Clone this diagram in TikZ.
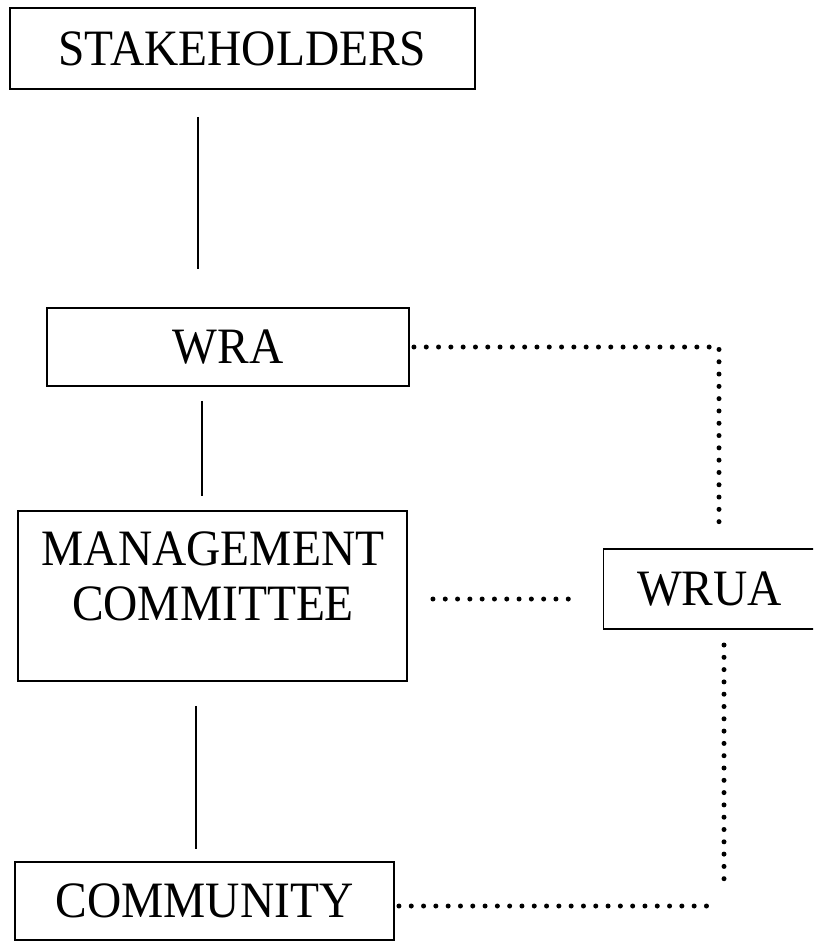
\documentclass[tikz,border=0pt]{standalone}
\usepackage{fontspec}
\setmainfont[FakeStretch=0.93]{Liberation Serif}
\begin{document}
\begin{tikzpicture}[x=1pt,y=-1pt,
  boxfont/.style={font=\fontsize{51}{55}\selectfont},
  box/.style={draw, line width=1.9pt, rectangle, inner sep=0pt, boxfont},
  solidline/.style={line width=1.6pt},
  dotline/.style={line width=5pt, line cap=round, dash pattern=on 0pt off 12.3pt}]
\useasboundingbox (0,0) rectangle (813,941);
\clip (0,0) rectangle (813,941);
\node[box, minimum width=465pt, minimum height=81pt] (stake) at (242.5,48.5) {STAKEHOLDERS};
\node[box, minimum width=362pt, minimum height=78pt] (wra) at (228,347) {WRA};
\node[box, minimum width=389pt, minimum height=170pt] (mc) at (212.5,596) {};
\node[boxfont, inner sep=0pt, anchor=base, align=center] (mctext) at (213,620) {MANAGEMENT\\COMMITTEE};
\node[box, minimum width=212pt, minimum height=80pt] (wrua) at (709.5,589) {WRUA};
\node[box, minimum width=379pt, minimum height=78pt] (comm) at (204.5,901) {COMMUNITY};
\coordinate (xa) at (198,0);
\coordinate (xb) at (202,0);
\coordinate (xc) at (196,0);
\coordinate (ya) at (0,347);
\coordinate (topend) at (719,522);
\coordinate (mcdots) at (0,599);
\coordinate (lowstart) at (724,645);
\coordinate (lowend) at (724,882);
\coordinate (commdots) at (0,906);
\coordinate (commend) at (707,906);
\draw[solidline, shorten <=27pt, shorten >=38pt] (stake.south -| xa) -- (wra.north -| xa);
\draw[solidline, shorten <=14pt, shorten >=14pt] (wra.south -| xb) -- (mc.north -| xb);
\draw[solidline, shorten <=24pt, shorten >=12pt] (mc.south -| xc) -- (comm.north -| xc);
\draw[dotline, shorten <=4pt] (wra.east |- ya) -| (topend);
\draw[dotline, shorten <=25pt, shorten >=32pt] (mc.east |- mcdots) -- (wrua.west |- mcdots);
\draw[dotline] (lowstart) -- (lowend);
\draw[dotline, shorten <=4pt] (comm.east |- commdots) -- (commend);
\end{tikzpicture}
\end{document}
